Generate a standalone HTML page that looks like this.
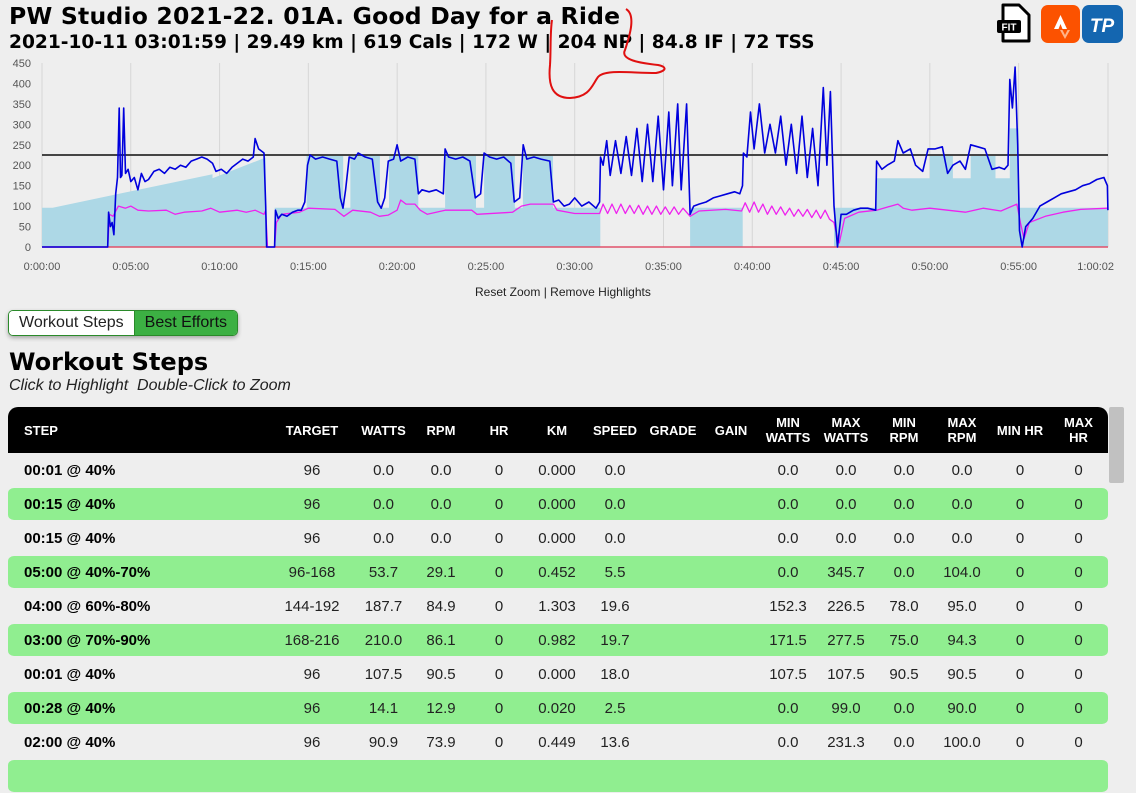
<!DOCTYPE html>
<html><head><meta charset="utf-8"><style>
body{margin:0;width:1136px;height:769px;overflow:hidden;background:#eeeeee;font-family:"Liberation Sans",Arial,sans-serif;position:relative}
.abs{position:absolute}
h1{position:absolute;left:9px;top:2px;margin:0;font-family:"DejaVu Sans",sans-serif;font-size:23.5px;font-weight:bold;letter-spacing:0.2px}
.sub{left:9px;top:32px;font-family:"DejaVu Sans",sans-serif;font-size:18.6px;font-weight:bold}
.tabs{left:8px;top:310px;height:24px;display:flex;border:1px solid #2a8a2a;border-radius:5px;overflow:hidden;box-shadow:0 2px 4px rgba(0,0,0,.3)}
.tabs div{font-size:16px;line-height:24px;padding:0 10px}
table{position:absolute;left:8px;top:407px;width:1100px;border-collapse:separate;border-spacing:0;font-size:15px}
th{background:#000;color:#fff;font-size:13px;font-weight:bold;height:46px;text-align:center;line-height:15px;padding:0}
th:first-child{border-top-left-radius:10px;text-align:left;padding-left:16px}
th:last-child{border-top-right-radius:10px}
td{height:32px;text-align:center;padding:0;color:#222;border-top:1px solid #eee;border-bottom:1px solid #eee}
td:first-child{text-align:left;padding-left:16px;font-weight:bold;color:#000}
tr.g td{background:#90ee90}
tr.g td:first-child{border-radius:6px 0 0 6px}
tr.g td:last-child{border-radius:0 6px 6px 0}
</style></head><body>
<h1>PW Studio 2021-22. 01A. Good Day for a Ride</h1>
<div class="abs sub">2021-10-11 03:01:59 | 29.49 km | 619 Cals | 172 W | 204 NP | 84.8 IF | 72 TSS</div>

<svg class="abs" style="left:993px;top:3px" width="140" height="40">
 <g>
  <path d="M10 2 H26 L36 12 V38 H10 Z" fill="#fff" stroke="#000" stroke-width="3" stroke-linejoin="round"/>
  <rect x="4" y="17" width="24" height="13" fill="#000" rx="2"/>
  <text x="16" y="27.5" font-size="10" font-weight="bold" fill="#fff" text-anchor="middle" font-family="Liberation Sans">FIT</text>
 </g>
 <g>
  <rect x="48" y="2" width="39" height="38" rx="7" fill="#fc5200"/>
  <path d="M61 26 L67.5 12 L74 26 H69.5 L67.5 21 L65.5 26 Z" fill="#fff"/>
  <path d="M69.5 27 L72 32 L74.5 27 H77 L72 36 L67 27 Z" fill="#ffb38a"/>
 </g>
 <g>
  <rect x="89" y="2" width="41" height="38" rx="7" fill="#1466b0"/>
  <text x="109" y="29" font-size="19" font-style="italic" font-weight="bold" fill="#fff" text-anchor="middle" font-family="Liberation Sans">TP</text>
 </g>
</svg>

<svg id="chart" class="abs" style="left:0;top:50px" width="1136" height="230"></svg>
<svg class="abs" style="left:540px;top:5px" width="140" height="100">
 <path d="M86 4 C 96 10, 90 30, 85 45 C 80 55, 100 58, 118 60 C 128 62, 126 66, 116 68 C 90 68, 65 64, 58 72 C 52 80, 50 92, 30 93 C 12 93, 8 80, 10 60 C 11 45, 10 28, 12 15" fill="none" stroke="#e01010" stroke-width="2"/>
</svg>

<div class="abs" style="left:475px;top:285px;font-size:12px;color:#222"><span>Reset Zoom</span> | <span>Remove Highlights</span></div>

<div class="abs tabs">
 <div style="background:#fff;color:#222;border-right:1px solid #2a8a2a">Workout Steps</div>
 <div style="background:#3cb043;color:#111">Best Efforts</div>
</div>
<div class="abs" style="left:9px;top:348px;font-family:'DejaVu Sans',sans-serif;font-size:24px;font-weight:bold">Workout Steps</div>
<div class="abs" style="left:9px;top:377px;font-size:16px;font-style:italic;color:#222">Click to Highlight&nbsp; Double-Click to Zoom</div>

<table>
<colgroup><col style="width:260px"><col style="width:88px"><col style="width:55px"><col style="width:60px"><col style="width:56px"><col style="width:60px"><col style="width:56px"><col style="width:60px"><col style="width:56px"><col style="width:58px"><col style="width:58px"><col style="width:58px"><col style="width:58px"><col style="width:58px"><col style="width:59px"></colgroup>
<tr><th>STEP</th><th>TARGET</th><th>WATTS</th><th>RPM</th><th>HR</th><th>KM</th><th>SPEED</th><th>GRADE</th><th>GAIN</th><th>MIN<br>WATTS</th><th>MAX<br>WATTS</th><th>MIN<br>RPM</th><th>MAX<br>RPM</th><th>MIN HR</th><th>MAX<br>HR</th></tr>
<tr><td>00:01 @ 40%</td><td>96</td><td>0.0</td><td>0.0</td><td>0</td><td>0.000</td><td>0.0</td><td></td><td></td><td>0.0</td><td>0.0</td><td>0.0</td><td>0.0</td><td>0</td><td>0</td></tr>
<tr class="g"><td>00:15 @ 40%</td><td>96</td><td>0.0</td><td>0.0</td><td>0</td><td>0.000</td><td>0.0</td><td></td><td></td><td>0.0</td><td>0.0</td><td>0.0</td><td>0.0</td><td>0</td><td>0</td></tr>
<tr><td>00:15 @ 40%</td><td>96</td><td>0.0</td><td>0.0</td><td>0</td><td>0.000</td><td>0.0</td><td></td><td></td><td>0.0</td><td>0.0</td><td>0.0</td><td>0.0</td><td>0</td><td>0</td></tr>
<tr class="g"><td>05:00 @ 40%-70%</td><td>96-168</td><td>53.7</td><td>29.1</td><td>0</td><td>0.452</td><td>5.5</td><td></td><td></td><td>0.0</td><td>345.7</td><td>0.0</td><td>104.0</td><td>0</td><td>0</td></tr>
<tr><td>04:00 @ 60%-80%</td><td>144-192</td><td>187.7</td><td>84.9</td><td>0</td><td>1.303</td><td>19.6</td><td></td><td></td><td>152.3</td><td>226.5</td><td>78.0</td><td>95.0</td><td>0</td><td>0</td></tr>
<tr class="g"><td>03:00 @ 70%-90%</td><td>168-216</td><td>210.0</td><td>86.1</td><td>0</td><td>0.982</td><td>19.7</td><td></td><td></td><td>171.5</td><td>277.5</td><td>75.0</td><td>94.3</td><td>0</td><td>0</td></tr>
<tr><td>00:01 @ 40%</td><td>96</td><td>107.5</td><td>90.5</td><td>0</td><td>0.000</td><td>18.0</td><td></td><td></td><td>107.5</td><td>107.5</td><td>90.5</td><td>90.5</td><td>0</td><td>0</td></tr>
<tr class="g"><td>00:28 @ 40%</td><td>96</td><td>14.1</td><td>12.9</td><td>0</td><td>0.020</td><td>2.5</td><td></td><td></td><td>0.0</td><td>99.0</td><td>0.0</td><td>90.0</td><td>0</td><td>0</td></tr>
<tr><td>02:00 @ 40%</td><td>96</td><td>90.9</td><td>73.9</td><td>0</td><td>0.449</td><td>13.6</td><td></td><td></td><td>0.0</td><td>231.3</td><td>0.0</td><td>100.0</td><td>0</td><td>0</td></tr>
<tr class="g"><td>&nbsp;</td><td></td><td></td><td></td><td></td><td></td><td></td><td></td><td></td><td></td><td></td><td></td><td></td><td></td><td></td></tr>
</table>
<div class="abs" style="left:1109px;top:407px;width:15px;height:76px;background:#c1c1c1;border-radius:2px"></div>

<script>
const targetT=[0,0.6,9.6,9.6,12.6,12.6,13.1,13.1,14.9,14.9,16.96,16.96,17.37,17.37,19.03,19.03,19.54,19.54,21.19,21.19,22.7,22.7,24.44,24.44,24.9,24.9,26.63,26.63,27.08,27.08,28.78,28.78,31.44,31.44,36.5,36.5,39.46,39.46,44.6,44.6,47.0,47.0,50.0,50.0,51.3,51.3,52.3,52.3,53.7,53.7,54.5,54.5,55.0,55.0,60.03];
const targetW=[96,96,178,168,219,0,0,96,96,225,225,96,96,225,225,96,96,225,225,96,96,225,225,96,96,225,225,96,96,225,225,96,96,0,0,96,96,0,0,96,96,168,168,225,225,168,168,225,225,168,168,290,290,96,96];
const powerT=[0,3.7,3.75,3.85,3.95,4.05,4.15,4.25,4.35,4.42,4.5,4.6,4.7,4.85,5.0,5.2,5.4,5.6,5.8,6.0,6.3,6.6,6.9,7.2,7.5,7.8,8.1,8.4,8.7,9.0,9.3,9.6,9.8,10.1,10.4,10.7,11.0,11.3,11.6,11.9,12.0,12.2,12.5,12.6,12.65,13.1,13.15,13.3,13.5,13.8,14.1,14.4,14.6,14.8,14.95,15.1,15.4,15.8,16.2,16.6,16.8,16.95,17.1,17.3,17.6,17.8,18.2,18.6,18.9,19.1,19.3,19.5,19.8,20.0,20.2,20.6,21.0,21.2,21.4,21.8,22.2,22.6,22.7,22.9,23.3,23.7,24.1,24.4,24.7,24.9,25.2,25.6,26.0,26.4,26.6,26.9,27.1,27.3,27.7,28.1,28.6,28.8,29.1,29.4,29.7,30.0,30.4,30.8,31.2,31.4,31.45,31.6,31.8,32.0,32.3,32.6,32.9,33.2,33.5,33.8,34.1,34.4,34.7,35.0,35.3,35.5,35.8,36.0,36.3,36.5,36.7,37.0,37.4,37.8,38.2,38.6,39.0,39.3,39.45,39.5,39.7,39.9,40.1,40.4,40.7,41.0,41.3,41.6,41.9,42.2,42.5,42.8,43.1,43.4,43.7,44.0,44.2,44.4,44.6,44.8,45.0,45.3,45.7,46.1,46.5,46.95,47.0,47.3,47.6,48.0,48.2,48.5,48.9,49.2,49.6,49.9,50.3,50.7,51.0,51.3,51.7,52.0,52.3,52.7,53.1,53.5,53.9,54.2,54.4,54.5,54.65,54.8,54.95,55.05,55.2,55.4,55.8,56.2,56.6,57.0,57.4,57.8,58.2,58.6,59.0,59.4,59.8,60.0,60.03];
const powerW=[0,0,85,50,60,30,130,170,340,170,175,340,180,190,160,170,140,180,160,165,185,190,180,195,190,200,195,210,215,220,215,205,185,190,180,195,205,215,210,220,265,240,230,100,0,0,90,70,80,75,85,90,90,110,200,225,215,220,215,210,120,95,140,220,215,230,220,215,110,95,120,210,215,250,210,220,215,130,140,135,140,130,240,220,215,220,210,120,130,230,220,215,220,205,110,120,250,215,220,215,210,110,115,100,105,120,100,110,95,110,220,200,260,175,260,180,270,175,290,160,300,160,320,140,330,150,350,140,350,80,100,105,110,120,125,130,135,130,150,230,220,330,240,350,230,300,230,320,200,300,180,320,170,290,150,390,200,380,100,0,80,80,90,95,95,90,210,190,200,210,260,230,240,200,185,240,240,245,180,200,210,190,250,245,240,190,195,190,200,410,340,440,250,40,0,50,70,100,110,120,130,135,140,150,155,165,170,150,90];
const cadT=[0,3.7,3.8,4.0,4.3,4.7,5.0,5.4,6.0,7.0,7.5,8.0,9.0,9.5,10.0,11.0,11.5,12.0,12.5,12.6,12.7,13.1,13.2,13.5,14.5,15.0,16.5,17.0,17.5,18.5,19.0,19.5,20.0,20.2,20.5,21.0,21.3,21.7,22.7,24.2,24.5,26.5,27.0,27.5,28.8,29.0,30.0,31.4,31.6,31.85,32.1,32.35,32.6,32.85,33.1,33.35,33.6,33.85,34.1,34.35,34.6,34.85,35.1,35.35,35.6,35.85,36.1,36.5,37.0,38.5,39.4,39.6,39.85,40.1,40.35,40.6,40.85,41.1,41.35,41.6,41.85,42.1,42.35,42.6,42.85,43.1,43.35,43.6,43.85,44.1,44.35,44.6,44.7,44.9,45.2,46,47,48.2,48.5,49.0,50,51,52,53,54,54.9,55.1,55.3,55.6,56.5,57.5,58.5,60];
const cadW=[0,0,80,75,100,95,100,90,88,90,80,85,88,95,85,90,85,90,80,90,0,0,60,80,85,95,92,75,90,85,75,78,90,115,105,105,90,80,90,90,80,85,100,105,105,90,82,82,105,82,105,82,105,82,102,82,102,80,100,80,100,80,98,80,98,80,95,75,88,92,88,108,85,110,85,105,80,100,80,98,78,95,75,92,75,92,72,90,70,90,68,60,40,10,70,85,90,105,95,90,95,90,85,95,88,105,60,20,60,75,85,92,95];
const gridT=[0,5,10,15,20,25,30,35,40,45,50,55];
const gridLabels=["0:00:00","0:05:00","0:10:00","0:15:00","0:20:00","0:25:00","0:30:00","0:35:00","0:40:00","0:45:00","0:50:00","0:55:00"];
const yTicks=[0,50,100,150,200,250,300,350,400,450];
const ftp=225;

const NS="http://www.w3.org/2000/svg",svg=document.getElementById('chart');
const X0=42,X1=1108,TMAX=60.033,Y0=197,YT=13;
const sx=t=>X0+(t/TMAX)*(X1-X0);
const sy=v=>Y0-(v/450)*(Y0-YT);
function mk(tag,a){const e=document.createElementNS(NS,tag);for(const k in a)e.setAttribute(k,a[k]);svg.appendChild(e);return e;}
gridT.forEach((t,i)=>{
 const l=mk('line',{x1:sx(t*1),x2:sx(t*1),y1:YT,y2:Y0,stroke:'#d6d6d6'});
 
 
 const tx=mk('text',{x:sx(t),y:Y0+23,'font-size':11,fill:'#555','text-anchor':'middle','font-family':'Liberation Sans'});
 tx.textContent=gridLabels[i];
 
 
});
const endL=mk('text',{x:X1+6,y:Y0+23,'font-size':11,fill:'#555','text-anchor':'end','font-family':'Liberation Sans'});
endL.textContent="1:00:02";


mk('line',{x1:X1,x2:X1,y1:YT,y2:Y0,stroke:'#d6d6d6'});
yTicks.forEach(v=>{
 const tx=mk('text',{x:31,y:sy(v)+4,'font-size':11,fill:'#555','text-anchor':'end','font-family':'Liberation Sans'});
 tx.textContent=v;
 
 
});
let d='M'+sx(targetT[0])+','+sy(0);
targetT.forEach((t,i)=>d+=' L'+sx(t).toFixed(1)+','+sy(targetW[i]).toFixed(1));
d+=' L'+sx(targetT[targetT.length-1])+','+sy(0)+' Z';
const area=mk('path',{d:d,fill:'#add8e6'});


const hr=mk('line',{x1:X0,x2:X1,y1:Y0,y2:Y0,stroke:'#e0506a','stroke-width':1.5});


const ft=mk('line',{x1:X0,x2:X1,y1:sy(ftp),y2:sy(ftp),stroke:'#444','stroke-width':2});


function line(T,V,c,w){
 const p=T.map((t,i)=>(i?'L':'M')+sx(t).toFixed(1)+','+sy(V[i]).toFixed(1)).join(' ');
 return mk('path',{d:p,fill:'none',stroke:c,'stroke-width':w,'stroke-linejoin':'round'});
}
const cl=line(cadT,cadW,'#ee22ee',1.3);


const pl=line(powerT,powerW,'#0000dd',1.6);


</script>
</body></html>
